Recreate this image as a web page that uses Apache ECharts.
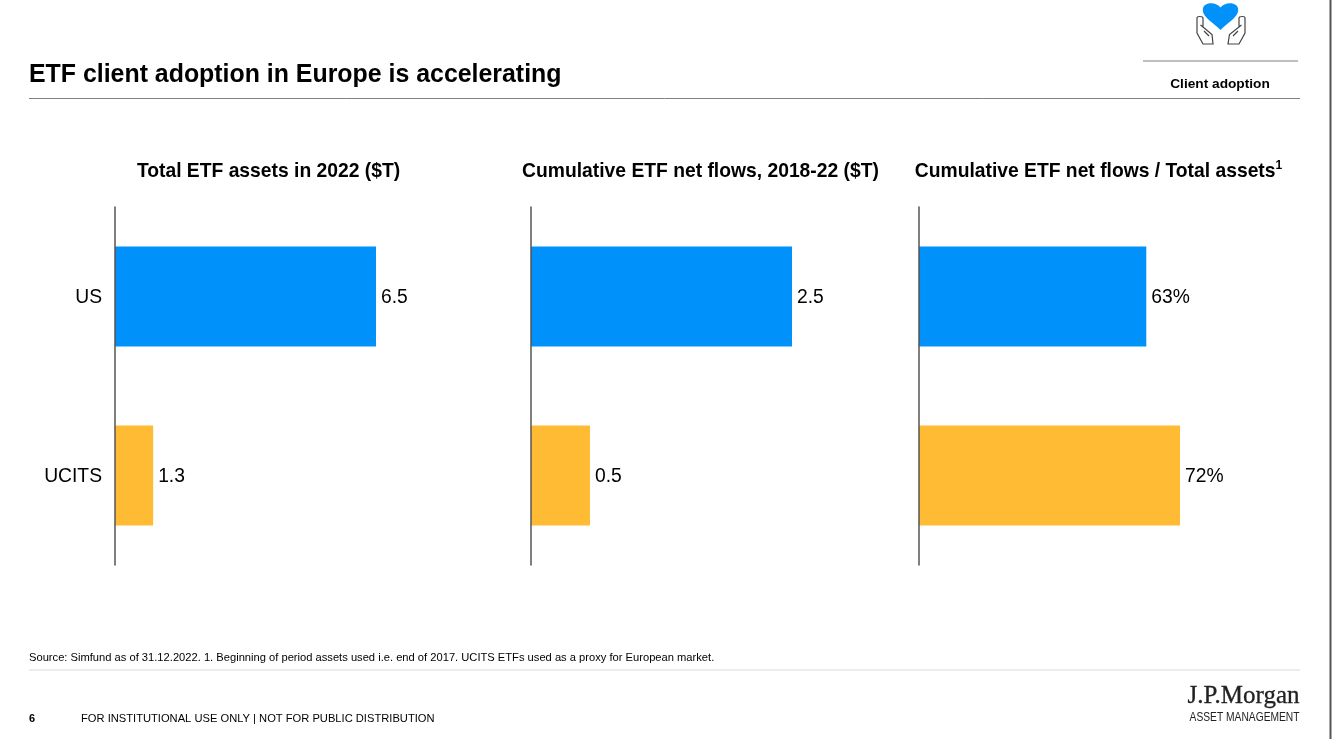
<!DOCTYPE html>
<html><head><meta charset="utf-8">
<style>html,body{margin:0;padding:0;background:#fff}#c{width:1332px;height:739px}</style>
<script src="https://cdn.jsdelivr.net/npm/echarts@6/dist/echarts.min.js"></script>
</head><body><div id="c"></div>
<script>
const categories = ['US', 'UCITS'];
const panelTitles = ['Total ETF assets in 2022 ($T)', 'Cumulative ETF net flows, 2018-22 ($T)', 'Cumulative ETF net flows / Total assets{sup|1}'];
// Printed labels, as shown in the reference.
const assetLabels = ['6.5', '1.3'];
const flowLabels = ['2.5', '0.5'];
const ratioLabels = ['63%', '72%'];
// Bar lengths, as drawn in the reference. The reference's short bars are not
// strictly proportional to their printed labels, so lengths are kept separately.
const assetBars = [6.5, 0.95];
const flowBars = [2.5, 0.565];
const ratioBars = [62.7, 72];
const axisMax = [6.5, 2.5, 72];
const barColors = ['#0091fa', '#ffbb33'];

const FONT = '"Liberation Sans", Arial, sans-serif';
const lefts = [115, 531, 919], widths = [261, 261, 261];
const titleCentres = [263.5, 695.5, 1093.5];
const barSets = [assetBars, flowBars, ratioBars];
const labelSets = [assetLabels, flowLabels, ratioLabels];

echarts.graphic.registerShape('iconHeart', echarts.graphic.extendPath('M1220.5 30 C1214 23 1202.8 17.5 1202.8 10 C1202.8 5.5 1206.5 3.3 1211 3.3 C1215 3.3 1218.5 5 1220.5 7.5 C1222.5 5 1226 3.3 1230 3.3 C1234.5 3.3 1238.2 5.5 1238.2 10 C1238.2 17.5 1227 23 1220.5 30 Z', {}));
echarts.graphic.registerShape('iconHands', echarts.graphic.extendPath('M1197 18 Q1197 16.5 1199.5 16.5 Q1203 16.5 1203 18 L1203 27 L1212 34.5 L1213 44 L1203 44 L1197 33 Z M1203 27 L1200.5 25 M1204 31 L1209 36 M1245 18 Q1245 16.5 1242.5 16.5 Q1239 16.5 1239 18 L1239 27 L1229.5 34.5 L1228 44 L1239 44 L1245 33 Z M1239 27 L1241.5 25 M1238 31 L1233 36', {}));

const chart = echarts.init(document.getElementById('c'), null, {renderer: 'canvas'});
const hline = (x1, x2, y, color, w) => ({type: 'line', silent: true, shape: {x1, y1: y, x2, y2: y}, style: {stroke: color, lineWidth: w}});
const txt = (x, y, text, font, fill, align) => ({type: 'text', silent: true, x, y, style: {text, font, fill: fill || '#000', align: align || 'left', verticalAlign: 'middle'}});

chart.setOption({
  animation: false,
  backgroundColor: '#ffffff',
  title: panelTitles.map((t, i) => ({
    text: t, left: titleCentres[i], top: 155, textAlign: 'center',
    textStyle: {fontFamily: FONT, fontSize: 19.3, fontWeight: 'bold', color: '#000', lineHeight: 24,
      rich: {sup: {fontFamily: FONT, fontSize: 12, fontWeight: 'bold', color: '#000', verticalAlign: 'top', padding: [0, 0, 8, 0]}}}
  })),
  grid: lefts.map((l, i) => ({left: l, top: 207, width: widths[i], height: 358})),
  xAxis: lefts.map((l, i) => ({gridIndex: i, type: 'value', min: 0, max: axisMax[i], show: false})),
  yAxis: lefts.map((l, i) => ({
    gridIndex: i, type: 'category', data: categories, inverse: true, z: 5,
    axisLine: {show: true, lineStyle: {color: '#555', width: 1.5}},
    axisTick: {show: false}, splitLine: {show: false},
    axisLabel: {show: i === 0, fontFamily: FONT, fontSize: 19.3, color: '#000', margin: 13, lineHeight: 27, verticalAlign: 'top', padding: [-12, 0, 0, 0]}
  })),
  series: lefts.map((l, i) => ({
    type: 'bar', xAxisIndex: i, yAxisIndex: i, barWidth: 100,
    data: barSets[i].map((v, k) => ({
      value: v, itemStyle: {color: barColors[k]},
      label: {show: true, position: 'right', distance: 5, offset: [0, 1.5], formatter: labelSets[i][k],
        fontFamily: FONT, fontSize: 19.3, color: '#000'}
    }))
  })),
  graphic: [
    txt(29, 75, 'ETF client adoption in Europe is accelerating', 'bold 24.9px ' + FONT),
    hline(29, 1300, 98.5, '#808080', 1),
    hline(1143, 1298, 61, '#808080', 1),
    txt(1220, 84.5, 'Client adoption', 'bold 13.7px ' + FONT, '#000', 'center'),
    {type: 'iconHands', silent: true, style: {fill: '#ffffff', stroke: '#444', lineWidth: 1.2}},
    {type: 'iconHeart', silent: true, style: {fill: '#0091fa'}},
    txt(29, 657.5, 'Source: Simfund as of 31.12.2022. 1. Beginning of period assets used i.e. end of 2017. UCITS ETFs used as a proxy for European market.', '11.16px ' + FONT),
    hline(29, 1300, 670, '#d9d9d9', 1),
    txt(29, 718.5, '6', 'bold 11px ' + FONT),
    txt(81, 718.5, 'FOR INSTITUTIONAL USE ONLY | NOT FOR PUBLIC DISTRIBUTION', '11.16px ' + FONT),
    {type: 'text', silent: true, x: 1299.5, y: 696, style: {text: 'J.P.Morgan', font: '25px "Liberation Serif", serif', fill: '#222', stroke: '#222', lineWidth: 0.3, align: 'right', verticalAlign: 'middle'}},
    {type: 'text', silent: true, x: 1299.5, y: 717.5, scaleX: 0.82, style: {text: 'ASSET MANAGEMENT', font: '12.5px "Liberation Sans", sans-serif', fill: '#222', align: 'right', verticalAlign: 'middle'}},
    {type: 'line', silent: true, shape: {x1: 1330.5, y1: 0, x2: 1330.5, y2: 739}, style: {stroke: '#555', lineWidth: 2}}
  ]
});
</script></body></html>
